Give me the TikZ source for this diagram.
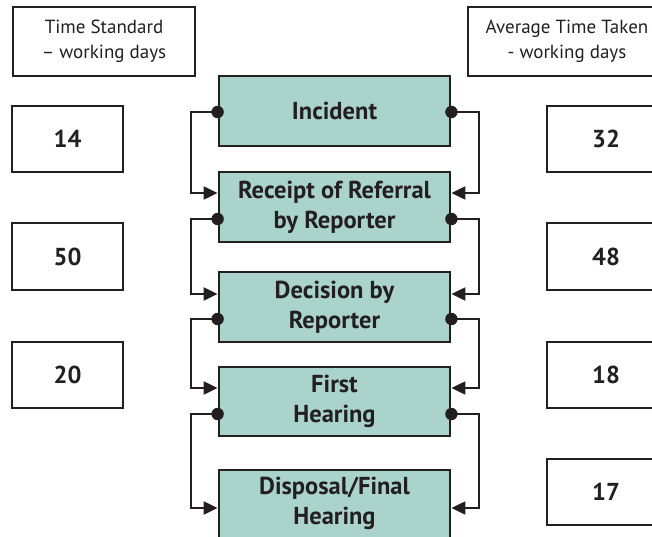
\documentclass[tikz,border=0pt]{standalone}
\usepackage{fontspec}
\setmainfont{PT Sans}
\usetikzlibrary{arrows.meta,calc}
\definecolor{boxteal}{HTML}{AAD4CB}
\definecolor{ink}{HTML}{231F20}
\tikzset{
  box/.style={draw=ink, line width=2.8pt, inner sep=0pt, align=center, text=ink},
  stage/.style={box, fill=boxteal, minimum width=231pt, font=\bfseries\fontsize{24.5}{30}\selectfont},
  numbox/.style={box, fill=white, minimum height=66pt, font=\bfseries\fontsize{24.5}{30}\selectfont},
  headbox/.style={box, fill=white, minimum height=69pt, font=\fontsize{19}{25.5}\selectfont},
  link/.style={draw=ink, line width=2.1pt, -{Triangle[length=14pt,width=13pt]}},
  port/.style={fill=ink}
}
\begin{document}
\begin{tikzpicture}[x=1pt,y=-1pt]
\useasboundingbox (0,0) rectangle (652,537);
\clip (0,0) rectangle (652,537);

% headers
\node[headbox, minimum width=182pt] (hl) at (104,41.5) {Time Standard\\– working days};
\node[headbox, minimum width=198pt] (hr) at (567,41.5) {Average Time Taken\\- working days};

% left number boxes
\node[numbox, minimum width=111pt] (l1) at (67.5,139) {14};
\node[numbox, minimum width=111pt, minimum height=67pt] (l2) at (67.5,256.5) {50};
\node[numbox, minimum width=111pt] (l3) at (67.5,375) {20};

% right number boxes
\node[numbox, minimum width=118pt] (r1) at (606,139) {32};
\node[numbox, minimum width=118pt, minimum height=67pt] (r2) at (606,256.5) {48};
\node[numbox, minimum width=118pt] (r3) at (606,375) {18};
\node[numbox, minimum width=118pt] (r4) at (606,492) {17};

% stages
\node[stage, minimum height=70pt] (inc) at (334.5,111) {Incident};
\node[stage, minimum height=70pt] (rec) at (334.5,207) {Receipt of Referral\\by Reporter};
\node[stage, minimum height=70pt] (dec) at (334.5,307) {Decision by\\Reporter};
\node[stage, minimum height=69pt] (fir) at (334.5,401.5) {First\\Hearing};
\node[stage, minimum height=80pt] (dis) at (334.5,510) {\raisebox{7pt}[\height][\depth]{\begin{tabular}{@{}c@{}}Disposal/Final\\Hearing\end{tabular}}};

% ports
\coordinate (incL) at ($(inc.west)+(0,1)$);
\coordinate (incR) at ($(inc.east)+(0,1)$);
\coordinate (recLi) at ($(rec.west)+(0,-14)$);
\coordinate (recRi) at ($(rec.east)+(0,-14)$);
\coordinate (recLo) at ($(rec.west)+(0,12)$);
\coordinate (recRo) at ($(rec.east)+(0,12)$);
\coordinate (decLi) at ($(dec.west)+(0,-13)$);
\coordinate (decRi) at ($(dec.east)+(0,-13)$);
\coordinate (decLo) at ($(dec.west)+(0,12)$);
\coordinate (decRo) at ($(dec.east)+(0,12)$);
\coordinate (firLi) at ($(fir.west)+(0,-13.5)$);
\coordinate (firRi) at ($(fir.east)+(0,-13.5)$);
\coordinate (firLo) at ($(fir.west)+(0,12.5)$);
\coordinate (firRo) at ($(fir.east)+(0,12.5)$);
\coordinate (disLi) at ($(dis.west)+(0,-2)$);
\coordinate (disRi) at ($(dis.east)+(0,-2)$);

% connectors
\draw[link] (incL) -- ++(-27,0) |- (recLi);
\draw[link] (incR) -- ++(28,0) |- (recRi);
\draw[link] (recLo) -- ++(-27,0) |- (decLi);
\draw[link] (recRo) -- ++(28,0) |- (decRi);
\draw[link] (decLo) -- ++(-27,0) |- (firLi);
\draw[link] (decRo) -- ++(28,0) |- (firRi);
\draw[link] (firLo) -- ++(-27,0) |- (disLi);
\draw[link] (firRo) -- ++(28,0) |- (disRi);

% dots
\foreach \p in {incL,incR,recLo,recRo,decLo,decRo,firLo,firRo}
  \fill[port] (\p) circle[radius=6.2pt];
\end{tikzpicture}
\end{document}
